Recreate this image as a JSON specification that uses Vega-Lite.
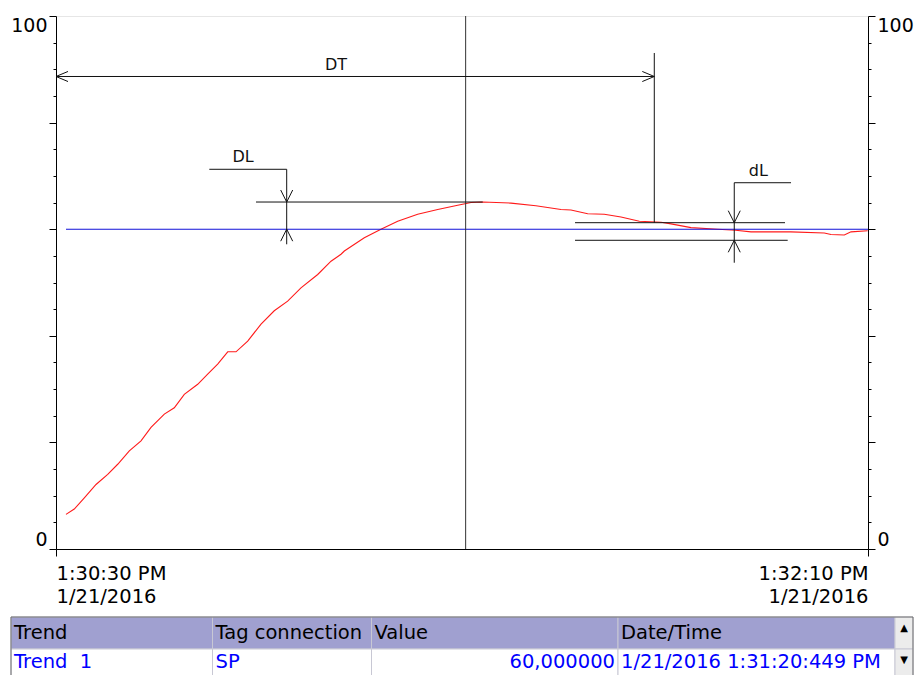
{
  "$schema": "https://vega.github.io/schema/vega-lite/v6.json",
  "background": "white",
  "padding": {"left": 10, "top": 15, "right": 0, "bottom": 0},
  "spacing": 10,
  "config": {"view": {"stroke": null}, "font": "DejaVu Sans"},
  "datasets": {
    "trend": [
      {"tag": "PV", "time": "2016-01-21T13:30:31.230Z", "value": 6.5},
      {"tag": "PV", "time": "2016-01-21T13:30:32.250Z", "value": 7.5},
      {"tag": "PV", "time": "2016-01-21T13:30:33.490Z", "value": 9.6},
      {"tag": "PV", "time": "2016-01-21T13:30:34.930Z", "value": 12.1},
      {"tag": "PV", "time": "2016-01-21T13:30:36.370Z", "value": 14.0},
      {"tag": "PV", "time": "2016-01-21T13:30:37.600Z", "value": 15.9},
      {"tag": "PV", "time": "2016-01-21T13:30:39.030Z", "value": 18.4},
      {"tag": "PV", "time": "2016-01-21T13:30:40.470Z", "value": 20.3},
      {"tag": "PV", "time": "2016-01-21T13:30:41.700Z", "value": 22.8},
      {"tag": "PV", "time": "2016-01-21T13:30:43.340Z", "value": 25.3},
      {"tag": "PV", "time": "2016-01-21T13:30:44.570Z", "value": 26.5},
      {"tag": "PV", "time": "2016-01-21T13:30:45.800Z", "value": 29.0},
      {"tag": "PV", "time": "2016-01-21T13:30:47.450Z", "value": 30.9},
      {"tag": "PV", "time": "2016-01-21T13:30:48.680Z", "value": 32.8},
      {"tag": "PV", "time": "2016-01-21T13:30:49.910Z", "value": 34.7},
      {"tag": "PV", "time": "2016-01-21T13:30:51.150Z", "value": 37.0},
      {"tag": "PV", "time": "2016-01-21T13:30:52.170Z", "value": 37.0},
      {"tag": "PV", "time": "2016-01-21T13:30:53.610Z", "value": 39.0},
      {"tag": "PV", "time": "2016-01-21T13:30:55.250Z", "value": 42.2},
      {"tag": "PV", "time": "2016-01-21T13:30:56.880Z", "value": 44.7},
      {"tag": "PV", "time": "2016-01-21T13:30:58.530Z", "value": 46.5},
      {"tag": "PV", "time": "2016-01-21T13:31:00.170Z", "value": 49.0},
      {"tag": "PV", "time": "2016-01-21T13:31:02.230Z", "value": 51.5},
      {"tag": "PV", "time": "2016-01-21T13:31:03.870Z", "value": 54.0},
      {"tag": "PV", "time": "2016-01-21T13:31:05.100Z", "value": 55.3},
      {"tag": "PV", "time": "2016-01-21T13:31:05.510Z", "value": 55.9},
      {"tag": "PV", "time": "2016-01-21T13:31:07.970Z", "value": 58.4},
      {"tag": "PV", "time": "2016-01-21T13:31:10.020Z", "value": 60.0},
      {"tag": "PV", "time": "2016-01-21T13:31:12.080Z", "value": 61.5},
      {"tag": "PV", "time": "2016-01-21T13:31:14.540Z", "value": 62.8},
      {"tag": "PV", "time": "2016-01-21T13:31:17.010Z", "value": 63.7},
      {"tag": "PV", "time": "2016-01-21T13:31:19.470Z", "value": 64.5},
      {"tag": "PV", "time": "2016-01-21T13:31:21.110Z", "value": 65.0},
      {"tag": "PV", "time": "2016-01-21T13:31:22.550Z", "value": 65.1},
      {"tag": "PV", "time": "2016-01-21T13:31:26.030Z", "value": 64.9},
      {"tag": "PV", "time": "2016-01-21T13:31:29.100Z", "value": 64.4},
      {"tag": "PV", "time": "2016-01-21T13:31:32.190Z", "value": 63.7},
      {"tag": "PV", "time": "2016-01-21T13:31:33.420Z", "value": 63.6},
      {"tag": "PV", "time": "2016-01-21T13:31:35.480Z", "value": 62.9},
      {"tag": "PV", "time": "2016-01-21T13:31:37.520Z", "value": 62.8},
      {"tag": "PV", "time": "2016-01-21T13:31:39.580Z", "value": 62.3},
      {"tag": "PV", "time": "2016-01-21T13:31:41.840Z", "value": 61.5},
      {"tag": "PV", "time": "2016-01-21T13:31:44.510Z", "value": 61.3},
      {"tag": "PV", "time": "2016-01-21T13:31:45.740Z", "value": 61.0},
      {"tag": "PV", "time": "2016-01-21T13:31:48.200Z", "value": 60.3},
      {"tag": "PV", "time": "2016-01-21T13:31:51.490Z", "value": 60.0},
      {"tag": "PV", "time": "2016-01-21T13:31:53.700Z", "value": 59.8},
      {"tag": "PV", "time": "2016-01-21T13:31:55.590Z", "value": 59.5},
      {"tag": "PV", "time": "2016-01-21T13:32:00.500Z", "value": 59.5},
      {"tag": "PV", "time": "2016-01-21T13:32:04.620Z", "value": 59.3},
      {"tag": "PV", "time": "2016-01-21T13:32:05.440Z", "value": 59.0},
      {"tag": "PV", "time": "2016-01-21T13:32:07.080Z", "value": 58.9},
      {"tag": "PV", "time": "2016-01-21T13:32:07.910Z", "value": 59.5},
      {"tag": "PV", "time": "2016-01-21T13:32:09.960Z", "value": 59.7},
      {"tag": "SP", "time": "2016-01-21T13:30:31.230Z", "value": 60},
      {"tag": "SP", "time": "2016-01-21T13:32:10.000Z", "value": 60}
    ],
    "cursor": [{"time": "2016-01-21T13:31:20.449Z"}],
    "segments": [
      {"t0": "2016-01-21T13:30:30.000Z", "t1": "2016-01-21T13:31:43.680Z", "v0": 88.65, "v1": 88.65},
      {"t0": "2016-01-21T13:31:43.680Z", "t1": "2016-01-21T13:31:43.680Z", "v0": 93.06, "v1": 61.22},
      {"t0": "2016-01-21T13:30:48.880Z", "t1": "2016-01-21T13:30:58.410Z", "v0": 71.24, "v1": 71.24},
      {"t0": "2016-01-21T13:30:58.410Z", "t1": "2016-01-21T13:30:58.410Z", "v0": 71.24, "v1": 57.17},
      {"t0": "2016-01-21T13:30:54.630Z", "t1": "2016-01-21T13:31:22.550Z", "v0": 65.10, "v1": 65.10},
      {"t0": "2016-01-21T13:31:53.530Z", "t1": "2016-01-21T13:32:00.520Z", "v0": 68.72, "v1": 68.72},
      {"t0": "2016-01-21T13:31:53.530Z", "t1": "2016-01-21T13:31:53.530Z", "v0": 68.72, "v1": 53.71},
      {"t0": "2016-01-21T13:31:33.920Z", "t1": "2016-01-21T13:31:59.780Z", "v0": 61.22, "v1": 61.22},
      {"t0": "2016-01-21T13:31:33.920Z", "t1": "2016-01-21T13:32:00.110Z", "v0": 57.92, "v1": 57.92}
    ],
    "arrows": [
      {"time": "2016-01-21T13:30:30.000Z", "value": 88.65, "dir": "left"},
      {"time": "2016-01-21T13:31:43.680Z", "value": 88.65, "dir": "right"},
      {"time": "2016-01-21T13:30:58.410Z", "value": 65.10, "dir": "down"},
      {"time": "2016-01-21T13:30:58.410Z", "value": 60.0, "dir": "up"},
      {"time": "2016-01-21T13:31:53.530Z", "value": 61.22, "dir": "down"},
      {"time": "2016-01-21T13:31:53.530Z", "value": 57.92, "dir": "up"}
    ],
    "labels": [
      {"time": "2016-01-21T13:31:04.480Z", "value": 89.87, "label": "DT"},
      {"time": "2016-01-21T13:30:53.030Z", "value": 72.6, "label": "DL"},
      {"time": "2016-01-21T13:31:56.500Z", "value": 69.98, "label": "dL"}
    ],
    "table": [
      {"r0": 0, "r1": 1, "c0": 0, "c1": 1, "part": "header", "text": "Trend"},
      {"r0": 0, "r1": 1, "c0": 1, "c1": 2, "part": "header", "text": "Tag connection"},
      {"r0": 0, "r1": 1, "c0": 2, "c1": 3, "part": "header", "text": "Value"},
      {"r0": 0, "r1": 1, "c0": 3, "c1": 4, "part": "header", "text": "Date/Time"},
      {"r0": 0, "r1": 1, "c0": 4, "c1": 5, "part": "scroll", "text": "▲"},
      {"r0": 1, "r1": 2, "c0": 0, "c1": 1, "part": "body", "text": "Trend\u00a0\u00a01"},
      {"r0": 1, "r1": 2, "c0": 1, "c1": 2, "part": "body", "text": "SP"},
      {"r0": 1, "r1": 2, "c0": 2, "c1": 3, "part": "number", "text": "60,000000"},
      {"r0": 1, "r1": 2, "c0": 3, "c1": 4, "part": "body", "text": "1/21/2016 1:31:20:449 PM"},
      {"r0": 1, "r1": 2, "c0": 4, "c1": 5, "part": "scroll", "text": "▼"}
    ]
  },
  "vconcat": [
    {
      "width": 812,
      "height": 533,
      "view": {"stroke": "#e6e6e6"},
      "resolve": {"axis": {"y": "independent"}},
      "layer": [
        {
          "data": {"name": "trend"},
          "mark": {"type": "line", "strokeWidth": 1.1},
          "encoding": {
            "x": {
              "field": "time", "type": "temporal",
              "scale": {"type": "utc", "nice": false, "domain": [
                {"year": 2016, "month": 1, "date": 21, "hours": 13, "minutes": 30, "seconds": 30, "utc": true},
                {"year": 2016, "month": 1, "date": 21, "hours": 13, "minutes": 32, "seconds": 10, "utc": true}]},
              "axis": {
                "title": null, "grid": false,
                "values": [
                  {"year": 2016, "month": 1, "date": 21, "hours": 13, "minutes": 30, "seconds": 30, "utc": true},
                  {"year": 2016, "month": 1, "date": 21, "hours": 13, "minutes": 32, "seconds": 10, "utc": true}],
                "labelExpr": "[utcFormat(datum.value, '%-I:%M:%S %p'), utcFormat(datum.value, '%-m/%-d/%Y')]",
                "labelFlush": true, "labelOverlap": false,
                "labelFont": "DejaVu Sans", "labelFontSize": 19.5, "labelLineHeight": 23, "labelColor": "#000",
                "tickSize": 7, "labelPadding": 8, "tickColor": "#000", "domainColor": "#000"
              }
            },
            "y": {
              "field": "value", "type": "quantitative",
              "scale": {"domain": [0, 100], "nice": false, "zero": true},
              "axis": {
                "orient": "left", "title": null, "grid": false,
                "values": [0, 5, 10, 15, 20, 25, 30, 35, 40, 45, 50, 55, 60, 65, 70, 75, 80, 85, 90, 95, 100],
                "labelExpr": "datum.value == 0 || datum.value == 100 ? datum.label : ''",
                "labelFlush": true, "labelOverlap": false,
                "labelFont": "DejaVu Sans", "labelFontSize": 19, "labelColor": "#000",
                "tickSize": {"condition": {"test": "datum.value % 20 == 0", "value": 7}, "value": 3},
                "labelPadding": 2, "tickColor": "#000", "domainColor": "#000"
              }
            },
            "color": {
              "field": "tag", "type": "nominal",
              "scale": {"domain": ["PV", "SP"], "range": ["#ff1a1a", "#1010d8"]},
              "legend": null
            }
          }
        },
        {
          "data": {"name": "cursor"},
          "mark": {"type": "rule", "color": "#333333", "strokeWidth": 1},
          "encoding": {
            "x": {"field": "time", "type": "temporal"}
          }
        },
        {
          "data": {"name": "segments"},
          "mark": {"type": "rule", "color": "#111111", "strokeWidth": 1},
          "encoding": {
            "x": {"field": "t0", "type": "temporal"},
            "x2": {"field": "t1"},
            "y": {
              "field": "v0", "type": "quantitative",
              "scale": {"domain": [0, 100], "nice": false, "zero": true},
              "axis": {
                "orient": "right", "title": null, "grid": false,
                "values": [0, 5, 10, 15, 20, 25, 30, 35, 40, 45, 50, 55, 60, 65, 70, 75, 80, 85, 90, 95, 100],
                "labelExpr": "datum.value == 0 || datum.value == 100 ? datum.label : ''",
                "labelFlush": true, "labelOverlap": false,
                "labelFont": "DejaVu Sans", "labelFontSize": 19, "labelColor": "#000",
                "tickSize": {"condition": {"test": "datum.value % 20 == 0", "value": 7}, "value": 3},
                "labelPadding": 2, "tickColor": "#000", "domainColor": "#000"
              }
            },
            "y2": {"field": "v1"}
          }
        },
        {
          "data": {"name": "arrows"},
          "mark": {"type": "point", "filled": false, "size": 576, "strokeWidth": 1, "color": "#111111", "opacity": 1},
          "encoding": {
            "x": {"field": "time", "type": "temporal"},
            "y": {"field": "value", "type": "quantitative", "scale": {"domain": [0, 100], "nice": false, "zero": true}, "axis": null},
            "shape": {
              "field": "dir", "type": "nominal",
              "scale": {"domain": ["left", "right", "down", "up"],
                "range": ["M1,-0.42L0,0L1,0.42", "M-1,-0.42L0,0L-1,0.42", "M-0.5,-1L0,0L0.5,-1", "M-0.5,1L0,0L0.5,1"]},
              "legend": null
            }
          }
        },
        {
          "data": {"name": "labels"},
          "mark": {"type": "text", "font": "DejaVu Sans", "fontSize": 16, "align": "center", "baseline": "alphabetic", "color": "#111111"},
          "encoding": {
            "x": {"field": "time", "type": "temporal"},
            "y": {"field": "value", "type": "quantitative", "scale": {"domain": [0, 100], "nice": false, "zero": true}, "axis": null},
            "text": {"field": "label"}
          }
        }
      ]
    },
    {
      "width": 857,
      "height": 64,
      "data": {"name": "table"},
      "layer": [
        {
          "mark": {"type": "rect", "stroke": "#c8c8d4", "strokeWidth": 1},
          "encoding": {
            "x": {"field": "c0", "type": "quantitative", "axis": null,
              "scale": {"domain": [0, 1, 2, 3, 4, 5], "range": [-45, 156.5, 315.5, 562, 839, 857], "zero": false, "nice": false}},
            "x2": {"field": "c1"},
            "y": {"field": "r0", "type": "quantitative", "axis": null,
              "scale": {"domain": [0, 1, 2], "range": [0, 32, 64], "zero": false, "nice": false}},
            "y2": {"field": "r1"},
            "fill": {"field": "part", "type": "nominal",
              "scale": {"domain": ["header", "body", "number", "scroll"], "range": ["#a0a0d0", "#ffffff", "#ffffff", "#ececec"]},
              "legend": null}
          }
        },
        {
          "data": {"values": [{}]},
          "mark": {"type": "rect", "fill": null, "stroke": "#6e6e6e", "strokeWidth": 1},
          "encoding": {
            "x": {"datum": 0, "type": "quantitative", "axis": null},
            "x2": {"datum": 5},
            "y": {"datum": 0, "type": "quantitative", "axis": null},
            "y2": {"datum": 2}
          }
        },
        {
          "transform": [{"filter": "datum.part == 'header'"}],
          "mark": {"type": "text", "font": "DejaVu Sans", "fontSize": 19.5, "align": "left", "baseline": "top", "dx": 3, "dy": 7, "color": "#000000"},
          "encoding": {
            "x": {"field": "c0", "type": "quantitative", "axis": null},
            "y": {"field": "r0", "type": "quantitative", "axis": null},
            "text": {"field": "text"}
          }
        },
        {
          "transform": [{"filter": "datum.part == 'body'"}],
          "mark": {"type": "text", "font": "DejaVu Sans", "fontSize": 19.5, "align": "left", "baseline": "top", "dx": 3, "dy": 4, "color": "#0000ff"},
          "encoding": {
            "x": {"field": "c0", "type": "quantitative", "axis": null},
            "y": {"field": "r0", "type": "quantitative", "axis": null},
            "text": {"field": "text"}
          }
        },
        {
          "transform": [{"filter": "datum.part == 'number'"}],
          "mark": {"type": "text", "font": "DejaVu Sans", "fontSize": 19.5, "align": "right", "baseline": "top", "dx": -3, "dy": 4, "color": "#0000ff"},
          "encoding": {
            "x": {"field": "c1", "type": "quantitative", "axis": null},
            "y": {"field": "r0", "type": "quantitative", "axis": null},
            "text": {"field": "text"}
          }
        },
        {
          "transform": [{"filter": "datum.part == 'scroll'"}],
          "mark": {"type": "text", "font": "DejaVu Sans", "fontSize": 10, "align": "center", "baseline": "top", "dx": 9, "dy": 6, "color": "#000000"},
          "encoding": {
            "x": {"field": "c0", "type": "quantitative", "axis": null},
            "y": {"field": "r0", "type": "quantitative", "axis": null},
            "text": {"field": "text"}
          }
        }
      ]
    }
  ]
}
